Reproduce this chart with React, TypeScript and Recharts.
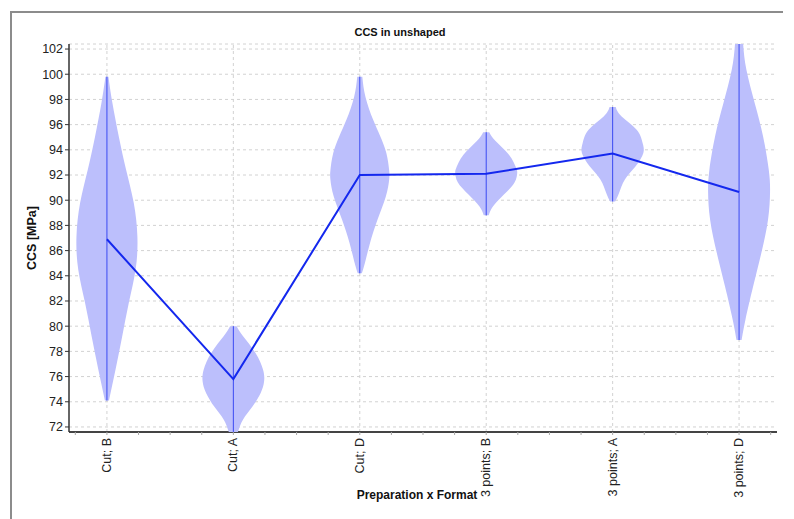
import {
  CartesianGrid,
  Curve,
  ReferenceLine,
  Scatter,
  ScatterChart,
  XAxis,
  YAxis,
} from "recharts";

const categories = ["Cut; B", "Cut; A", "Cut; D", "3 points; B", "3 points; A", "3 points; D"];
const means = [86.9, 75.8, 92.0, 92.1, 93.7, 90.65];
const mins = [74.1, 71.6, 84.2, 88.8, 89.9, 78.9];
const maxs = [99.8, 80.0, 99.8, 95.4, 97.4, 102.4];

// violin outlines: [CCS value, half width in category units]
const violinCutB = [
  [99.8, 0.012], [97.8, 0.042], [95.0, 0.095], [92.4, 0.152], [89.8, 0.212], [87.1, 0.241],
  [84.5, 0.227], [81.9, 0.174], [79.2, 0.121], [76.6, 0.069], [74.1, 0.016],
];
const violinCutA = [
  [80.0, 0.026], [79.2, 0.077], [77.9, 0.174], [76.55, 0.235], [75.6, 0.243], [74.7, 0.216],
  [73.6, 0.15], [72.6, 0.077], [71.6, 0.036],
];
const violinCutD = [
  [99.8, 0.02], [98.2, 0.045], [96.4, 0.105], [95.1, 0.161], [93.75, 0.21], [92.4, 0.232],
  [91.6, 0.232], [90.3, 0.206], [88.45, 0.14], [86.6, 0.081], [85.0, 0.04], [84.2, 0.016],
];
const violin3pB = [
  [95.4, 0.024], [94.7, 0.074], [93.6, 0.18], [92.55, 0.237], [92.15, 0.245], [91.4, 0.224],
  [90.45, 0.14], [89.5, 0.053], [88.8, 0.02],
];
const violin3pA = [
  [97.4, 0.024], [96.65, 0.071], [95.6, 0.19], [94.55, 0.237], [93.75, 0.243], [92.7, 0.182],
  [91.65, 0.097], [90.55, 0.05], [89.9, 0.02],
];
const violin3pD = [
  [102.4, 0.032], [100.35, 0.058], [97.7, 0.124], [95.05, 0.19], [92.4, 0.235], [90.65, 0.245],
  [88.45, 0.229], [85.8, 0.176], [83.15, 0.111], [80.5, 0.05], [78.9, 0.02],
];
const violins = [violinCutB, violinCutA, violinCutD, violin3pB, violin3pA, violin3pD];

const yTicks = [72, 74, 76, 78, 80, 82, 84, 86, 88, 90, 92, 94, 96, 98, 100, 102];
const xTicks = [
  -0.25, 0, 0.25, 0.5, 0.75, 1, 1.25, 1.5, 1.75, 2, 2.25, 2.5, 2.75, 3, 3.25, 3.5, 3.75, 4,
  4.25, 4.5, 4.75, 5, 5.25,
];

const FONT = '"Liberation Sans", Arial, sans-serif';
const VIOLIN = "#bcbffc";
const BLUE = "#1428ee";

// right side top to bottom, then left side top to bottom
function outline(i: number, violin: number[][]) {
  const right = violin.map(([v, w]) => ({ x: i + w, y: v }));
  const left = violin.map(([v, w]) => ({ x: i - w, y: v }));
  return [...right, ...left];
}

const noDot = () => <g />;

const toPath = (pts: { x: number; y: number }[]) =>
  pts.map((p, k) => `${k === 0 ? "M" : "L"}${p.x},${p.y}`).join(" ");

// smooth area between the two sides of the violin
const fillShape = (p: any) => {
  const n = p.points.length / 2;
  const right = p.points.slice(0, n);
  const left = p.points.slice(n);
  return (
    <Curve
      type="natural"
      layout="vertical"
      points={right}
      baseLine={left}
      fill={VIOLIN}
      stroke="none"
    />
  );
};
const thinLine = (p: any) => <path d={toPath(p.points)} fill="none" stroke="#3a4af2" strokeWidth={1} />;
const meanLine = (p: any) => <path d={toPath(p.points)} fill="none" stroke={BLUE} strokeWidth={2} />;

function CategoryTick({ x, y, payload }: any) {
  const i = payload.value;
  if (!Number.isInteger(i)) return <g />;
  return (
    <text
      transform={`translate(${x + 4},${y + 1}) rotate(-90)`}
      textAnchor="end"
      fontSize={12.5}
      fontFamily={FONT}
      fill="#222"
    >
      {categories[i]}
    </text>
  );
}

export default function App() {
  const meanData = means.map((m, i) => ({ x: i, y: m }));
  return (
    <div style={{ position: "absolute", left: 0, top: 0, width: 794, height: 519, background: "#fff", fontFamily: FONT }}>
      <div
        style={{
          position: "absolute",
          left: 10,
          top: 11,
          width: 773,
          height: 508,
          borderLeft: "2px solid #8c8c8c",
          borderTop: "2px solid #8c8c8c",
          boxSizing: "border-box",
        }}
      />
      <div style={{ position: "absolute", left: 0, width: 800, top: 26, textAlign: "center", fontSize: 11, fontWeight: "bold", color: "#111" }}>
        CCS in unshaped
      </div>
      <div
        style={{
          position: "absolute",
          left: 32,
          top: 238,
          transform: "translate(-50%, -50%) rotate(-90deg)",
          whiteSpace: "nowrap",
          fontSize: 12.5,
          fontWeight: "bold",
          color: "#111",
        }}
      >
        CCS [MPa]
      </div>
      <div
        style={{
          position: "absolute",
          left: 417,
          top: 495,
          transform: "translate(-50%, -50%)",
          whiteSpace: "nowrap",
          fontSize: 12,
          fontWeight: "bold",
          color: "#111",
        }}
      >
        Preparation x Format
      </div>
      <div style={{ position: "absolute", left: 0, top: 0 }}>
        <ScatterChart width={794} height={519} margin={{ top: 44, right: 17, bottom: 27, left: 29 }}>
          <CartesianGrid vertical={false} strokeDasharray="3 3" stroke="#d2d2d2" />
          {categories.map((c, i) => (
            <ReferenceLine key={c} x={i} stroke="#d2d2d2" strokeDasharray="3 3" />
          ))}
          <XAxis
            type="number"
            dataKey="x"
            domain={[-0.3, 5.3]}
            ticks={xTicks}
            allowDataOverflow
            height={60}
            tick={<CategoryTick />}
            tickSize={3}
            tickMargin={2}
            tickLine={{ stroke: "#a8a8a8" }}
            axisLine={{ stroke: "#444", strokeWidth: 2 }}
            interval={0}
          />
          <YAxis
            type="number"
            dataKey="y"
            domain={[71.6, 102.4]}
            ticks={yTicks}
            allowDataOverflow
            width={40}
            tick={{ fontSize: 12.5, fill: "#222", fontFamily: FONT }}
            tickSize={4}
            tickLine={{ stroke: "#333" }}
            axisLine={{ stroke: "#333", strokeWidth: 1.5 }}
            interval={0}
          />
          {violins.map((v, i) => (
            <Scatter
              key={"v" + i}
              data={outline(i, v)}
              shape={noDot}
              line={fillShape}
              lineType="joint"
              legendType="none"
              isAnimationActive={false}
            />
          ))}
          {categories.map((c, i) => (
            <Scatter
              key={"c" + i}
              data={[{ x: i, y: maxs[i] }, { x: i, y: mins[i] }]}
              shape={noDot}
              line={thinLine}
              lineType="joint"
              legendType="none"
              isAnimationActive={false}
            />
          ))}
          <Scatter
            data={meanData}
            shape={noDot}
            line={meanLine}
            lineType="joint"
            legendType="none"
            isAnimationActive={false}
          />
        </ScatterChart>
      </div>
    </div>
  );
}
